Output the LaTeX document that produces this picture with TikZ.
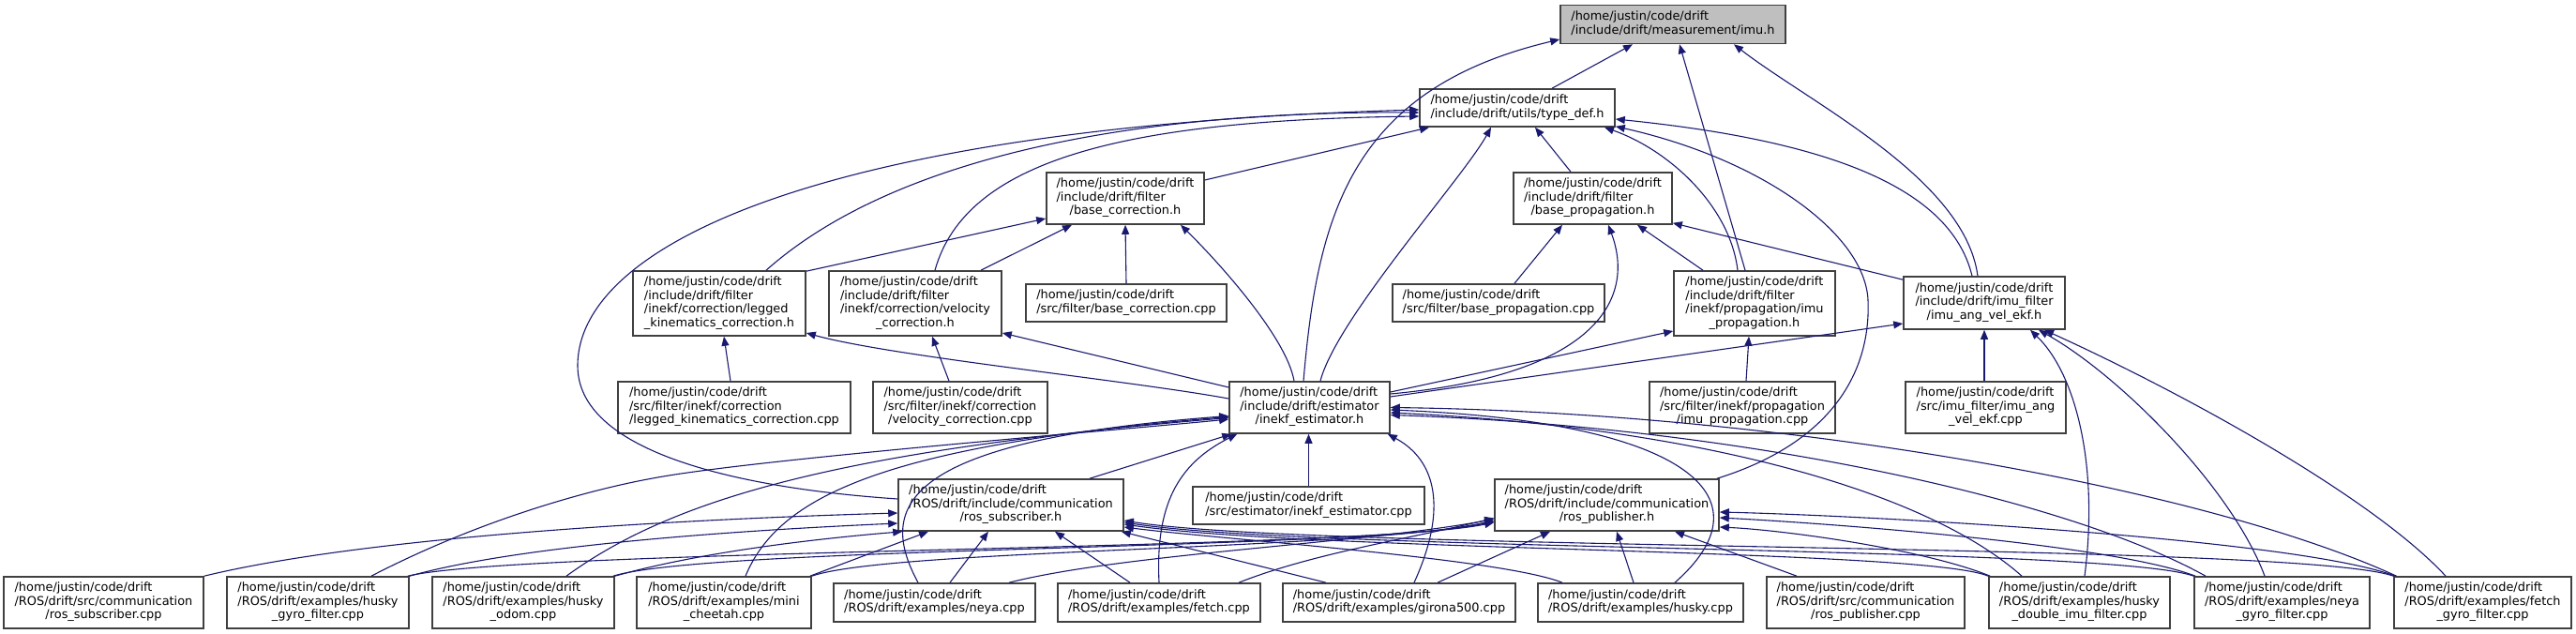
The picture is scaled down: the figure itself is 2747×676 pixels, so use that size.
\documentclass[tikz,border=0pt]{standalone}
\usepackage{fontspec}
\setmainfont{DejaVu Sans}
\usetikzlibrary{arrows.meta}
\definecolor{edgec}{HTML}{191970}
\definecolor{imufill}{HTML}{BFBFBF}
\definecolor{boxline}{HTML}{404040}
\newcommand\dl[1]{\begin{tabular}{@{}l@{}}#1\end{tabular}}
\newcommand\dc[1]{\multicolumn{1}{@{}c@{}}{#1}}
\tikzset{
  dbox/.style={draw=boxline, line width=1.6pt, fill=white, inner sep=0pt,
    font=\fontsize{12.9}{14.5}\selectfont, anchor=center},
  htwo/.style={minimum height=41pt},
  hthree/.style={minimum height=55pt},
  hfour/.style={minimum height=69pt},
  dedge/.style={draw=edgec, line width=1.1pt, -{Triangle[length=10pt,width=8pt]}},
}
\begin{document}
\begin{tikzpicture}[x=1pt,y=-1pt]
\fill[white] (0,0) rectangle (2747,676);
\useasboundingbox (0,0) rectangle (2747,676);

% ---------- nodes ----------
\node[dbox,htwo,minimum width=240pt,fill=imufill] (imu) at (1784,26) {\dl{/home/justin/code/drift\\/include/drift/measurement/imu.h}};
\node[dbox,minimum height=40pt,minimum width=208pt] (typedef) at (1618,115) {\dl{/home/justin/code/drift\\/include/drift/utils/type\_def.h}};
\node[dbox,hthree,minimum width=168pt] (basecorr) at (1200,211.5) {\dl{/home/justin/code/drift\\/include/drift/filter\\\dc{/base\_correction.h}}};
\node[dbox,hthree,minimum width=169pt] (baseprop) at (1698.5,211.5) {\dl{/home/justin/code/drift\\/include/drift/filter\\\dc{/base\_propagation.h}}};
\node[dbox,hfour,minimum width=184pt] (legged) at (767,323.5) {\dl{/home/justin/code/drift\\/include/drift/filter\\/inekf/correction/legged\\\dc{\_kinematics\_correction.h}}};
\node[dbox,hfour,minimum width=184pt] (velocity) at (976,323.5) {\dl{/home/justin/code/drift\\/include/drift/filter\\/inekf/correction/velocity\\\dc{\_correction.h}}};
\node[dbox,minimum height=40pt,minimum width=214pt] (basecorrcpp) at (1201,323) {\dl{/home/justin/code/drift\\/src/filter/base\_correction.cpp}};
\node[dbox,minimum height=40pt,minimum width=226pt] (basepropcpp) at (1598,323) {\dl{/home/justin/code/drift\\/src/filter/base\_propagation.cpp}};
\node[dbox,hfour,minimum width=172pt] (imuprop) at (1871,323.5) {\dl{/home/justin/code/drift\\/include/drift/filter\\/inekf/propagation/imu\\\dc{\_propagation.h}}};
\node[dbox,minimum height=56pt,minimum width=172pt] (imuang) at (2116,323) {\dl{/home/justin/code/drift\\/include/drift/imu\_filter\\\dc{/imu\_ang\_vel\_ekf.h}}};
\node[dbox,hthree,minimum width=248pt] (leggedcpp) at (783,434.5) {\dl{/home/justin/code/drift\\/src/filter/inekf/correction\\\dc{/legged\_kinematics\_correction.cpp}}};
\node[dbox,hthree,minimum width=186pt] (velocitycpp) at (1024,434.5) {\dl{/home/justin/code/drift\\/src/filter/inekf/correction\\\dc{/velocity\_correction.cpp}}};
\node[dbox,hthree,minimum width=171pt] (estimator) at (1396.5,434.5) {\dl{/home/justin/code/drift\\/include/drift/estimator\\\dc{/inekf\_estimator.h}}};
\node[dbox,hthree,minimum width=198pt] (imupropcpp) at (1858,434.5) {\dl{/home/justin/code/drift\\/src/filter/inekf/propagation\\\dc{/imu\_propagation.cpp}}};
\node[dbox,hthree,minimum width=171pt] (imuangcpp) at (2117.5,434.5) {\dl{/home/justin/code/drift\\/src/imu\_filter/imu\_ang\\\dc{\_vel\_ekf.cpp}}};
\node[dbox,hthree,minimum width=240pt] (rossub) at (1078,538.5) {\dl{/home/justin/code/drift\\/ROS/drift/include/communication\\\dc{/ros\_subscriber.h}}};
\node[dbox,minimum height=40pt,minimum width=247pt] (estimatorcpp) at (1395.5,539) {\dl{/home/justin/code/drift\\/src/estimator/inekf\_estimator.cpp}};
\node[dbox,hthree,minimum width=239pt] (rospub) at (1713.5,538.5) {\dl{/home/justin/code/drift\\/ROS/drift/include/communication\\\dc{/ros\_publisher.h}}};
% bottom row
\node[dbox,hthree,minimum width=213pt] (rossubcpp) at (110.5,642.5) {\dl{/home/justin/code/drift\\/ROS/drift/src/communication\\\dc{/ros\_subscriber.cpp}}};
\node[dbox,hthree,minimum width=194pt] (huskygyro) at (339,642.5) {\dl{/home/justin/code/drift\\/ROS/drift/examples/husky\\\dc{\_gyro\_filter.cpp}}};
\node[dbox,hthree,minimum width=194pt] (huskyodom) at (558,642.5) {\dl{/home/justin/code/drift\\/ROS/drift/examples/husky\\\dc{\_odom.cpp}}};
\node[dbox,hthree,minimum width=186pt] (mini) at (772,642.5) {\dl{/home/justin/code/drift\\/ROS/drift/examples/mini\\\dc{\_cheetah.cpp}}};
\node[dbox,htwo,minimum width=215pt] (neya) at (996.5,642.5) {\dl{/home/justin/code/drift\\/ROS/drift/examples/neya.cpp}};
\node[dbox,htwo,minimum width=216pt] (fetch) at (1236,642.5) {\dl{/home/justin/code/drift\\/ROS/drift/examples/fetch.cpp}};
\node[dbox,htwo,minimum width=248pt] (girona) at (1492,642.5) {\dl{/home/justin/code/drift\\/ROS/drift/examples/girona500.cpp}};
\node[dbox,htwo,minimum width=219pt] (husky) at (1749.5,642.5) {\dl{/home/justin/code/drift\\/ROS/drift/examples/husky.cpp}};
\node[dbox,hthree,minimum width=211pt] (rospubcpp) at (1989.5,642.5) {\dl{/home/justin/code/drift\\/ROS/drift/src/communication\\\dc{/ros\_publisher.cpp}}};
\node[dbox,hthree,minimum width=193pt] (huskydouble) at (2217.5,642.5) {\dl{/home/justin/code/drift\\/ROS/drift/examples/husky\\\dc{\_double\_imu\_filter.cpp}}};
\node[dbox,hthree,minimum width=187pt] (neyagyro) at (2433.5,642.5) {\dl{/home/justin/code/drift\\/ROS/drift/examples/neya\\\dc{\_gyro\_filter.cpp}}};
\node[dbox,hthree,minimum width=189pt] (fetchgyro) at (2647.5,642.5) {\dl{/home/justin/code/drift\\/ROS/drift/examples/fetch\\\dc{\_gyro\_filter.cpp}}};

% ---------- edges to imu.h ----------
\draw[dedge] ([xshift=37pt]typedef.north) -- ([xshift=-43pt]imu.south);
\draw[dedge] ([xshift=-6.5pt]estimator.north) .. controls (1405,230) and (1440,95) .. ([yshift=-16pt]imu.west);
\draw[dedge] ([xshift=-10pt]imuprop.north) -- ([xshift=7pt]imu.south);
\draw[dedge] ([xshift=-7pt]imuang.north) .. controls (2095,190) and (1930,110) .. ([xshift=65pt]imu.south);

% ---------- edges to type_def.h ----------
\draw[dedge] ([xshift=11.5pt]estimator.north) .. controls (1425,340) and (1560,190) .. ([xshift=-28pt]typedef.south);
\draw[dedge] ([yshift=19.5pt]basecorr.east) -- ([xshift=-94pt]typedef.south);
\draw[dedge] ([xshift=50pt]legged.north) .. controls (950,170) and (1200,118) .. ([yshift=-5pt]typedef.west);
\draw[dedge] ([xshift=21pt]velocity.north) .. controls (1030,170) and (1200,128) .. ([yshift=-9pt]typedef.west);
\draw[dedge] ([yshift=6.5pt]rossub.west) .. controls (780,520) and (616,480) .. (616,390) .. controls (616,260) and (880,135) .. ([yshift=-2pt]typedef.west);
\draw[dedge] ([xshift=-23.5pt]baseprop.north) -- ([xshift=19pt]typedef.south);
\draw[dedge] ([xshift=-18pt]imuprop.north) .. controls (1845,220) and (1780,160) .. ([xshift=93pt]typedef.south);
\draw[dedge] ([xshift=-13pt]imuang.north) .. controls (2080,200) and (1950,150) .. ([yshift=-12pt]typedef.east);
\draw[dedge] ([xshift=117.5pt]rospub.north) .. controls (1960,470) and (1995,390) .. (1992,320) .. controls (1989,250) and (1880,170) .. ([yshift=1pt]typedef.south east);

% ---------- edges to base_propagation.h ----------
\draw[dedge] ([xshift=17pt]basepropcpp.north) -- ([xshift=-32.5pt]baseprop.south);
\draw[dedge] ([yshift=14.5pt]estimator.east) .. controls (1700,400) and (1745,320) .. ([xshift=16.5pt]baseprop.south);
\draw[dedge] ([xshift=-55pt]imuprop.north) -- ([xshift=47.5pt]baseprop.south);
\draw[dedge] ([yshift=-4pt]imuang.north west) -- ([yshift=2pt]baseprop.south east);

% ---------- edges to base_correction.h ----------
\draw[dedge] (basecorrcpp.north) -- (basecorr.south);
\draw[dedge] ([yshift=-1pt]legged.north east) -- ([yshift=-21.5pt]basecorr.west);
\draw[dedge] ([xshift=70pt]velocity.north) -- ([xshift=-57pt]basecorr.south);
\draw[dedge] ([xshift=-16.5pt]estimator.north) .. controls (1372,360) and (1300,280) .. ([xshift=59pt]basecorr.south);

% ---------- edges to correction / propagation headers ----------
\draw[dedge] ([xshift=-4pt]leggedcpp.north) -- ([xshift=5pt]legged.south);
\draw[dedge] ([yshift=9.5pt]estimator.west) .. controls (1200,405) and (950,380) .. ([yshift=-31.5pt]legged.east);
\draw[dedge] ([xshift=-12pt]velocitycpp.north) -- ([xshift=18pt]velocity.south);
\draw[dedge] ([yshift=21.5pt]estimator.west) -- ([yshift=-31.5pt]velocity.east);
\draw[dedge] ([xshift=4pt]imupropcpp.north) -- ([xshift=-6pt]imuprop.south);
\draw[dedge] ([yshift=16.5pt]estimator.east) -- ([yshift=-29.5pt]imuprop.west);

% ---------- edges to imu_ang_vel_ekf.h ----------
\draw[dedge] ([xshift=-1.5pt]imuangcpp.north) -- (imuang.south);
\draw[dedge] ([yshift=11.5pt]estimator.east) -- ([yshift=-22pt]imuang.west);
\draw[dedge] ([xshift=5.5pt]huskydouble.north) .. controls (2238,500) and (2215,400) .. ([xshift=49pt]imuang.south);
\draw[dedge] ([xshift=-18.5pt]neyagyro.north) .. controls (2380,520) and (2260,400) .. ([xshift=58pt]imuang.south);
\draw[dedge] ([xshift=-39.5pt]fetchgyro.north) .. controls (2530,530) and (2330,420) .. ([xshift=64pt]imuang.south);

% ---------- edges to inekf_estimator.h ----------
\draw[dedge] (estimatorcpp.north) -- ([xshift=-1pt]estimator.south);
\draw[dedge] ([xshift=84pt]rossub.north) -- ([xshift=3pt]estimator.south west);
\draw[dedge] (fetch.north) .. controls (1232,540) and (1255,495) .. ([xshift=9pt]estimator.south west);
\draw[dedge] ([xshift=16pt]girona.north) .. controls (1545,540) and (1530,490) .. ([xshift=-3pt]estimator.south east);
\draw[dedge] ([xshift=36.5pt]husky.north) .. controls (1890,530) and (1800,450) .. ([yshift=-2.5pt]estimator.east);
\draw[dedge] ([xshift=-61.5pt]huskydouble.north) .. controls (2050,520) and (1800,455) .. ([yshift=-5.5pt]estimator.east);
\draw[dedge] ([xshift=-81.5pt]neyagyro.north) .. controls (2200,530) and (1850,455) .. ([yshift=-8pt]estimator.east);
\draw[dedge] ([xshift=-92pt]fetchgyro.north) .. controls (2350,520) and (1900,440) .. (estimator.east);
\draw[dedge] ([xshift=57pt]huskygyro.north) .. controls (520,550) and (640,520) .. (696,510) .. controls (800,490) and (1200,458) .. ([yshift=-12.5pt]estimator.west);
\draw[dedge] ([xshift=46pt]huskyodom.north) .. controls (720,530) and (900,480) .. ([yshift=-11pt]estimator.west);
\draw[dedge] ([xshift=23pt]mini.north) .. controls (830,530) and (940,475) .. ([yshift=-10pt]estimator.west);
\draw[dedge] ([xshift=-17.5pt]neya.north) .. controls (935,540) and (960,470) .. ([yshift=-9pt]estimator.west);

% ---------- edges to ros_subscriber.h ----------
\draw[dedge] (rossubcpp.north east) .. controls (400,570) and (750,553) .. ([yshift=-8.5pt]rossub.west);
\draw[dedge] (huskygyro.north east) .. controls (560,580) and (800,565) .. ([yshift=-19.5pt]rossub.west);
\draw[dedge] (huskyodom.north east) .. controls (760,585) and (900,572) .. ([xshift=5pt]rossub.south west);
\draw[dedge] ([xshift=-2pt]mini.north east) -- ([xshift=-88pt]rossub.south);
\draw[dedge] ([xshift=16.5pt]neya.north) -- ([xshift=-24pt]rossub.south);
\draw[dedge] ([xshift=-31pt]fetch.north) -- ([xshift=47pt]rossub.south);
\draw[dedge] ([xshift=-78pt]girona.north) -- ([xshift=-3pt]rossub.south east);
\draw[dedge] ([xshift=-83.5pt]husky.north) .. controls (1600,595) and (1300,575) .. ([yshift=-23.5pt]rossub.east);
\draw[dedge] (huskydouble.north west) .. controls (2050,585) and (1400,588) .. ([yshift=-20.5pt]rossub.east);
\draw[dedge] (neyagyro.north west) .. controls (2250,582) and (1400,588) .. ([yshift=-18.5pt]rossub.east);
\draw[dedge] (fetchgyro.north west) .. controls (2450,578) and (1400,588) .. ([yshift=-16.5pt]rossub.east);

% ---------- edges to ros_publisher.h ----------
\draw[dedge] ([xshift=-2pt]huskygyro.north east) .. controls (560,585) and (1450,587) .. ([yshift=-18.5pt]rospub.west);
\draw[dedge] ([xshift=-2pt]huskyodom.north east) .. controls (760,582) and (1450,587) .. ([yshift=-17.5pt]rospub.west);
\draw[dedge] (mini.north east) .. controls (950,585) and (1450,587) .. ([yshift=-16.5pt]rospub.west);
\draw[dedge] ([xshift=79.5pt]neya.north) .. controls (1200,590) and (1450,580) .. ([yshift=-15pt]rospub.west);
\draw[dedge] ([xshift=85pt]fetch.north) .. controls (1400,590) and (1500,575) .. ([yshift=-14pt]rospub.west);
\draw[dedge] ([xshift=41pt]girona.north) -- ([xshift=-60.5pt]rospub.south);
\draw[dedge] ([xshift=-7.5pt]husky.north) -- ([xshift=10.5pt]rospub.south);
\draw[dedge] ([xshift=-73.5pt]rospubcpp.north) -- ([xshift=72.5pt]rospub.south);
\draw[dedge] ([xshift=2pt]huskydouble.north west) .. controls (2050,585) and (1900,565) .. ([yshift=-23.5pt]rospub.east);
\draw[dedge] ([xshift=2pt]neyagyro.north west) .. controls (2250,580) and (1950,558) .. ([yshift=-13.5pt]rospub.east);
\draw[dedge] ([xshift=2pt]fetchgyro.north west) .. controls (2450,575) and (2000,550) .. ([yshift=-7.5pt]rospub.east);
\end{tikzpicture}
\end{document}
